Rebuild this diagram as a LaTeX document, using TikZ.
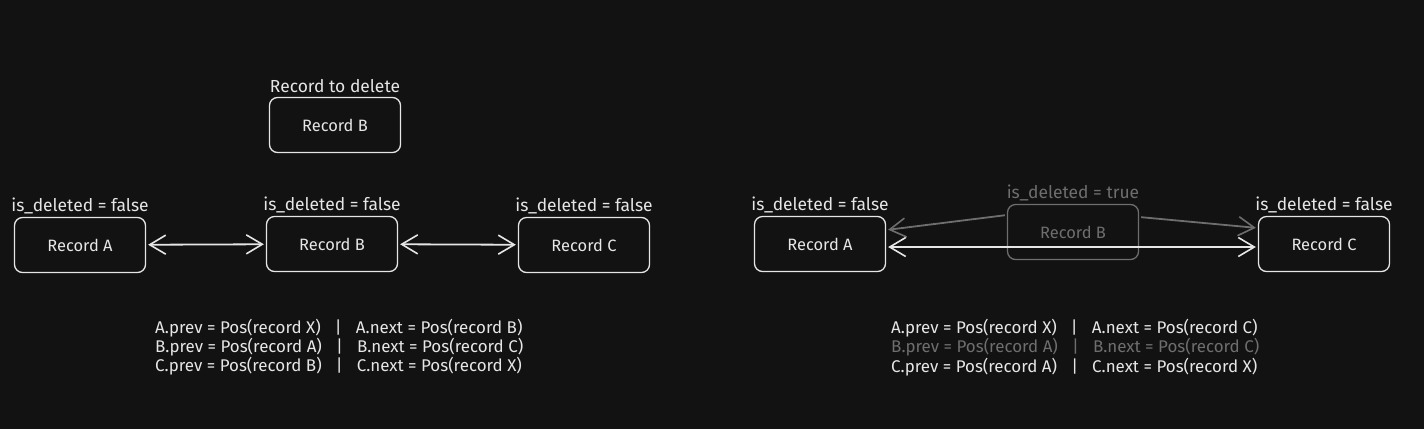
\documentclass[tikz,border=0pt]{standalone}
\usepackage{fontspec}
\setmainfont{Fira Sans}
\usetikzlibrary{arrows.meta}
\usetikzlibrary{positioning}
\definecolor{bgc}{HTML}{121212}
\definecolor{ink}{HTML}{E6E6E6}
\definecolor{faded}{HTML}{6E6E6E}
\newcommand{\sepbar}{\enspace\,\,|\enspace\,\,}
\tikzset{>={Straight Barb[length=16bp, width=19bp, line width=1.6bp]}}
\tikzset{rec/.style = {draw = ink, line width = 1.3bp, rounded corners = 8bp,
                       minimum width = 131bp, minimum height = 55bp,
                       text = ink, font = \fontsize{16.5}{18}\selectfont}}
\tikzset{lbl/.style = {text = ink, inner sep = 0.5bp, font = \fontsize{17.5}{19}\selectfont}}
\tikzset{code/.style = {text = ink, inner sep = 0, anchor = west,
                        font = \fontsize{17}{19}\selectfont}}
\tikzset{link/.style = {draw = ink, line width = 1.8bp, shorten <= 2bp, shorten >= 2bp}}

\begin{document}
\begin{tikzpicture}[x = 1bp, y = -1bp]
  \fill [bgc] (0, 0) rectangle (1424, 429);
  % before deletion
  \node [rec] (del) at (335, 125) {Record B};
  \node [lbl, above = 3bp of del] (ldel) {Record to delete};
  \node [rec] (A) at (80, 245) {Record A};
  \node [rec] (B) at (332, 244) {Record B};
  \node [rec] (C) at (584, 245) {Record C};
  \node [lbl, above = 2bp of A] (lA) {is\_deleted = false};
  \node [lbl, above = 2bp of B] (lB) {is\_deleted = false};
  \node [lbl, above = 2bp of C] (lC) {is\_deleted = false};
  \draw [link, <->] (A) -- (B);
  \draw [link, <->] (B) -- (C);
  \node [code] (a1) at (155, 328) {A.prev = Pos(record X)\sepbar A.next = Pos(record B)};
  \node [code] (a2) at (155, 347) {B.prev = Pos(record A)\sepbar B.next = Pos(record C)};
  \node [code] (a3) at (155, 366) {C.prev = Pos(record B)\sepbar C.next = Pos(record X)};
  % after deletion
  \node [rec, draw = faded, text = faded] (rB) at (1073, 232) {Record B};
  \node [lbl, text = faded, above = 2bp of rB] (lrB) {is\_deleted = true};
  \node [rec] (rA) at (820, 244) {Record A};
  \node [rec] (rC) at (1324, 244) {Record C};
  \node [lbl, above = 2bp of rA] (lrA) {is\_deleted = false};
  \node [lbl, above = 2bp of rC] (lrC) {is\_deleted = false};
  \draw [link, draw = faded, ->] ([yshift = 17bp] rB.west) -- ([yshift = 14bp] rA.east);
  \draw [link, draw = faded, ->] ([yshift = 15bp] rB.east) -- ([yshift = 16bp] rC.west);
  \draw [link, <->] ([yshift = -3bp] rA.east) -- ([yshift = -3bp] rC.west);
  \node [code] (b1) at (891, 328) {A.prev = Pos(record X)\sepbar A.next = Pos(record C)};
  \node [code, text = faded] (b2) at (891, 347) {B.prev = Pos(record A)\sepbar B.next = Pos(record C)};
  \node [code] (b3) at (891, 367) {C.prev = Pos(record A)\sepbar C.next = Pos(record X)};
\end{tikzpicture}
\end{document}
